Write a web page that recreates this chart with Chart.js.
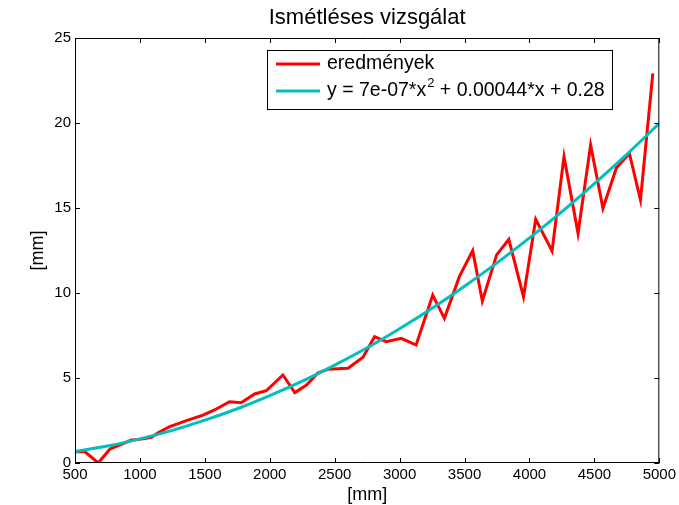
<!DOCTYPE html>
<html>
<head>
<meta charset="utf-8">
<script src="https://cdn.jsdelivr.net/npm/chart.js@4/dist/chart.umd.min.js"></script>
<style>
  html, body { margin: 0; padding: 0; background: #fff; }
</style>
</head>
<body>
<canvas id="chart" width="679" height="505"></canvas>
<script>
// measured series: distance [mm] -> deviation [mm]
const measX = [500, 577, 679, 769, 846, 935, 999, 1089, 1140, 1230, 1358, 1486,
               1575, 1690, 1780, 1883, 1973, 2101, 2193, 2283, 2372, 2449, 2603,
               2718, 2807, 2897, 3012, 3127, 3255, 3345, 3460, 3563, 3637, 3747,
               3841, 3954, 4048, 4174, 4266, 4374, 4471, 4566, 4669, 4770, 4855, 4950];
const measY = [0.66, 0.66, 0.0, 0.82, 1.06, 1.35, 1.39, 1.51, 1.78, 2.14, 2.49, 2.82,
               3.12, 3.6, 3.55, 4.06, 4.25, 5.18, 4.14, 4.59, 5.31, 5.51, 5.57,
               6.22, 7.43, 7.14, 7.33, 6.94, 9.88, 8.51, 10.96, 12.49, 9.53, 12.24,
               13.16, 9.78, 14.34, 12.47, 18.02, 13.51, 18.71, 14.98, 17.35, 18.2, 15.47, 22.92];

// quadratic trend line, sampled every 250 mm
const fitX = [500, 750, 1000, 1250, 1500, 1750, 2000, 2250, 2500, 2750, 3000,
              3250, 3500, 3750, 4000, 4250, 4500, 4750, 5000];
const fitY = [0.68, 1.0, 1.42, 1.92, 2.52, 3.19, 3.96, 4.81, 5.76, 6.78, 7.9,
              9.1, 10.4, 11.77, 13.24, 14.79, 16.44, 18.16, 19.98];

const xTicks = [500, 1000, 1500, 2000, 2500, 3000, 3500, 4000, 4500, 5000];
const yTicks = [0, 5, 10, 15, 20, 25];

const titleText = 'Ismétléses vizsgálat';
const axisLabel = '[mm]';
const measLabel = 'eredmények';
const fitLabel = ['y = 7e-07*x', '2', ' + 0.00044*x + 0.28'];

const RED = '#ff0000';
const CYAN = '#00bfbf';
const FONT = '"Liberation Sans", Arial, sans-serif';

// box around the plot with inward ticks on all four sides, title centred over it
const frame = {
  id: 'frame',
  afterDatasetsDraw(chart) {
    const { ctx, chartArea: a, scales } = chart;
    const t = 5;
    ctx.save();
    ctx.strokeStyle = '#000';
    ctx.lineWidth = 1;
    ctx.beginPath();
    ctx.rect(a.left + 0.5, a.top + 0.5, a.right - a.left - 1, a.bottom - a.top - 1);
    xTicks.forEach(v => {
      const px = Math.round(scales.x.getPixelForValue(v)) + 0.5;
      ctx.moveTo(px, a.bottom); ctx.lineTo(px, a.bottom - t);
      ctx.moveTo(px, a.top); ctx.lineTo(px, a.top + t);
    });
    yTicks.forEach(v => {
      const py = Math.round(scales.y.getPixelForValue(v)) + 0.5;
      ctx.moveTo(a.left, py); ctx.lineTo(a.left + t, py);
      ctx.moveTo(a.right, py); ctx.lineTo(a.right - t, py);
    });
    ctx.stroke();

    ctx.fillStyle = '#000';
    ctx.font = '22px ' + FONT;
    ctx.textAlign = 'center';
    ctx.textBaseline = 'middle';
    ctx.fillText(titleText, (a.left + a.right) / 2, 18);
    ctx.restore();
  }
};

// legend drawn by hand so the exponent can be raised
const legendBox = {
  id: 'legendBox',
  afterDraw(chart) {
    const { ctx } = chart;
    const ds = chart.data.datasets;
    const bx = 267, by = 50, bw = 345, bh = 59;
    ctx.save();
    ctx.fillStyle = '#fff';
    ctx.fillRect(bx, by, bw, bh);
    ctx.strokeStyle = '#000';
    ctx.lineWidth = 1;
    ctx.strokeRect(bx + 0.5, by + 0.5, bw, bh);

    const rows = [64, 91];
    ds.forEach((d, i) => {
      ctx.strokeStyle = d.borderColor;
      ctx.lineWidth = 3;
      ctx.beginPath();
      ctx.moveTo(276, rows[i]);
      ctx.lineTo(320, rows[i]);
      ctx.stroke();
    });

    ctx.fillStyle = '#000';
    ctx.textBaseline = 'middle';
    ctx.font = '19.5px ' + FONT;
    ctx.fillText(measLabel, 327, rows[0]);
    let x = 327;
    ctx.fillText(fitLabel[0], x, rows[1]);
    x += ctx.measureText(fitLabel[0]).width;
    ctx.font = '13px ' + FONT;
    ctx.fillText(fitLabel[1], x + 1, rows[1] - 8);
    x += ctx.measureText(fitLabel[1]).width + 1;
    ctx.font = '19.5px ' + FONT;
    ctx.fillText(fitLabel[2], x, rows[1]);
    ctx.restore();
  }
};

new Chart(document.getElementById('chart'), {
  type: 'line',
  data: {
    datasets: [
      {
        label: measLabel,
        data: measX.map((x, i) => ({ x: x, y: measY[i] })),
        borderColor: RED,
        borderWidth: 3,
        pointRadius: 0,
        tension: 0,
        order: 2
      },
      {
        label: fitLabel.join(''),
        data: fitX.map((x, i) => ({ x: x, y: fitY[i] })),
        borderColor: CYAN,
        borderWidth: 3,
        pointRadius: 0,
        cubicInterpolationMode: 'monotone',
        order: 1
      }
    ]
  },
  options: {
    responsive: false,
    animation: false,
    devicePixelRatio: 1,
    layout: { padding: { top: 38, right: 18, bottom: 0, left: 0 } },
    plugins: {
      legend: { display: false },
      tooltip: { enabled: false },
      title: { display: false }
    },
    scales: {
      x: {
        type: 'linear',
        min: 500,
        max: 5000,
        afterBuildTicks: s => { s.ticks = xTicks.map(v => ({ value: v })); },
        afterFit: s => { s.height = 42; },
        grid: { display: false, drawTicks: false },
        border: { display: false },
        ticks: { color: '#000', padding: 3, maxRotation: 0, autoSkip: false,
                 callback: v => String(v),
                 font: { family: FONT, size: 15 } },
        title: { display: true, text: axisLabel, color: '#000',
                 font: { family: FONT, size: 18, lineHeight: 1.1 },
                 padding: { top: 0, bottom: 0 } }
      },
      y: {
        min: 0,
        max: 25,
        afterBuildTicks: s => { s.ticks = yTicks.map(v => ({ value: v })); },
        afterFit: s => { s.width = 75; },
        grid: { display: false, drawTicks: false },
        border: { display: false },
        ticks: { color: '#000', padding: 4, callback: v => String(v),
                 font: { family: FONT, size: 15 } },
        title: { display: true, text: axisLabel, color: '#000',
                 font: { family: FONT, size: 18, lineHeight: 1.1 },
                 padding: { top: 28, bottom: 0 } }
      }
    }
  },
  plugins: [frame, legendBox]
});
</script>
</body>
</html>
